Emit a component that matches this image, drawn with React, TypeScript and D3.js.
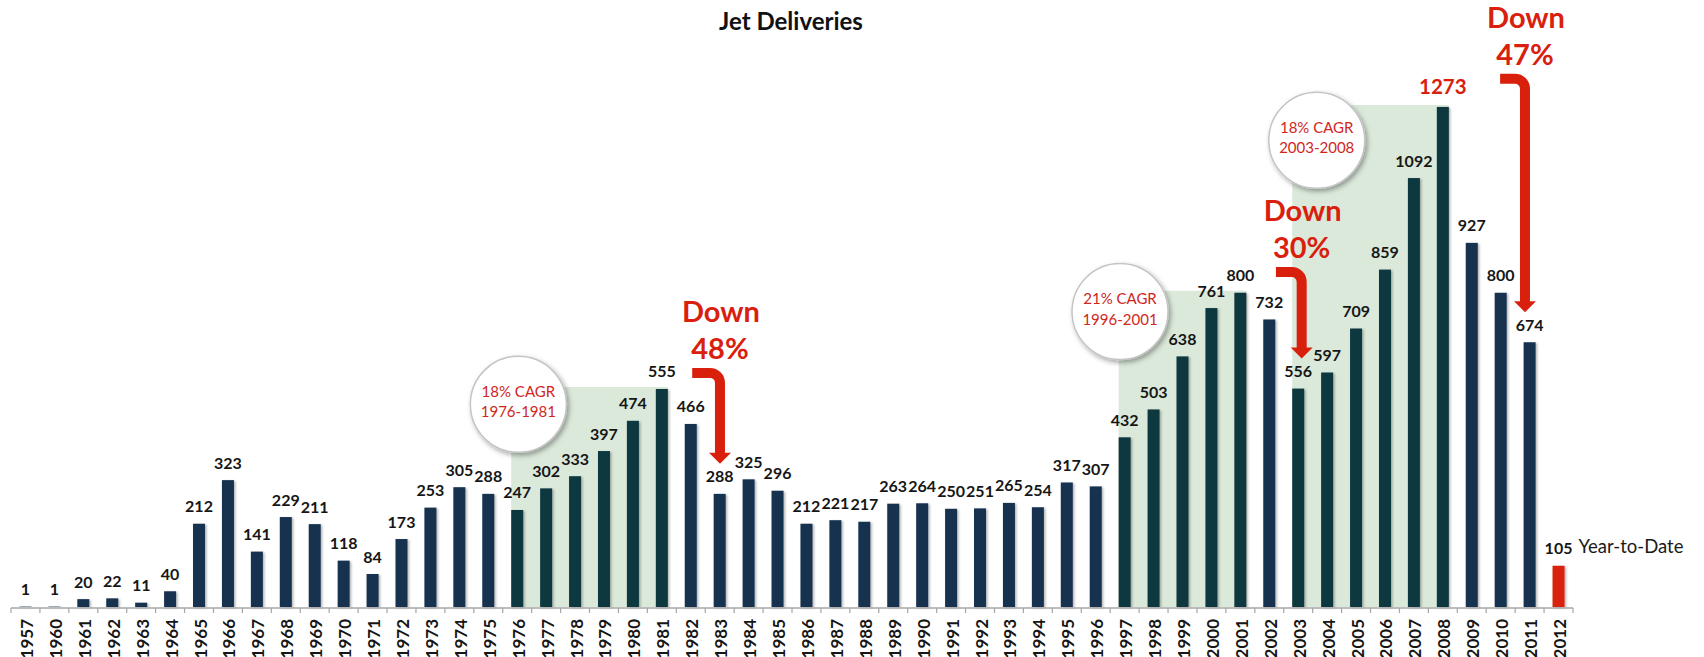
import React from 'react';
import * as d3 from 'd3';

// categories and values
const years = [
  '1957', '1960', '1961', '1962', '1963', '1964', '1965', '1966', '1967', '1968',
  '1969', '1970', '1971', '1972', '1973', '1974', '1975', '1976', '1977', '1978',
  '1979', '1980', '1981', '1982', '1983', '1984', '1985', '1986', '1987', '1988',
  '1989', '1990', '1991', '1992', '1993', '1994', '1995', '1996', '1997', '1998',
  '1999', '2000', '2001', '2002', '2003', '2004', '2005', '2006', '2007', '2008',
  '2009', '2010', '2011', '2012',
];

const deliveries = [
  1, 1, 20, 22, 11, 40, 212, 323, 141, 229,
  211, 118, 84, 173, 253, 305, 288, 247, 302, 333,
  397, 474, 555, 466, 288, 325, 296, 212, 221, 217,
  263, 264, 250, 251, 265, 254, 317, 307, 432, 503,
  638, 761, 800, 732, 556, 597, 709, 859, 1092, 1273,
  927, 800, 674, 105,
];

const ytdYear = '2012';
const peakYear = '2008';

// growth periods (shaded) and their bubble labels
const cagrFrom = ['1976', '1997', '2003'];
const cagrTo = ['1981', '2001', '2008'];
const cagrRate = ['18% CAGR', '21% CAGR', '18% CAGR'];
const cagrPeriod = ['1976-1981', '1996-2001', '2003-2008'];

// declines
const dropLabel = ['48%', '30%', '47%'];
const dropTarget = ['1983', '2003', '2011'];

// annotation layout, in category-index / delivery units
const bubbleAt = [17.54, 38.34, 45.14];
const bubbleLevel = [516, 752, 1188];
const arrowStart = [23.55, 43.73, 51.48];
const arrowStem = [24.51, 44.62, 52.34];
const arrowTop = [596, 853, 1345];

const W = 1704, H = 657;
const baseY = 607;
const navy = '#16304f';
const teal = '#11383f';
const red = '#d9200d';
const font = 'Lato, "Open Sans", sans-serif';

export default function App() {
  const x = d3.scaleBand<string>().domain(years).range([11, 1573]).padding(0);
  const xi = d3.scaleLinear().domain([0, years.length]).range([11, 1573]);
  const y = d3.scaleLinear().domain([0, 1400]).range([baseY, baseY - 1400 * 0.3928]);
  const bw = 12;
  const cx = (yr: string) => (x(yr) as number) + x.bandwidth() / 2;

  const inShade = (yr: string) =>
    cagrFrom.some((f, i) => +yr >= +f && +yr <= +cagrTo[i]);

  const ticks = d3.range(years.length + 1).map(i => xi(i));

  return (
    <svg width={W} height={H} style={{ position: 'absolute', left: 0, top: 0, display: 'block' }}
      fontFamily={font}>
      <defs>
        <filter id="barShadow" x="-30%" y="-10%" width="160%" height="120%">
          <feDropShadow dx="1.5" dy="1" stdDeviation="0.8" floodColor="#000" floodOpacity="0.3" />
        </filter>
        <filter id="bubbleShadow" x="-30%" y="-30%" width="160%" height="160%">
          <feDropShadow dx="2" dy="2.5" stdDeviation="2.5" floodColor="#000" floodOpacity="0.35" />
        </filter>
      </defs>

      <text x={791} y={30} textAnchor="middle" fontSize={24} fontWeight="bold" fill="#111">
        Jet Deliveries
      </text>

      {/* shaded growth periods */}
      {cagrFrom.map((f, i) => {
        const x0 = cx(f) - bw / 2;
        const x1 = cx(cagrTo[i]) + bw / 2;
        const top = y(deliveries[years.indexOf(cagrTo[i])]) - 2;
        return <rect key={'s' + i} x={x0} y={top} width={x1 - x0} height={baseY - top} fill="#dbe9da" />;
      })}

      {/* bars */}
      <g filter="url(#barShadow)">
        {years.map((yr, i) => (
          <rect key={yr} x={cx(yr) - bw / 2} y={y(deliveries[i])} width={bw}
            height={baseY - y(deliveries[i])}
            fill={yr === ytdYear ? red : inShade(yr) ? teal : navy} />
        ))}
      </g>

      {/* value labels */}
      {years.map((yr, i) => (
        <text key={'v' + yr} x={cx(yr)} y={y(deliveries[i]) - (yr === peakYear ? 13 : 11.5)}
          textAnchor="middle" fontWeight="bold"
          fontSize={yr === peakYear ? 20.5 : 16}
          fill={yr === peakYear ? red : '#161616'}>
          {deliveries[i]}
        </text>
      ))}
      <text x={cx(ytdYear) + 20} y={y(deliveries[years.indexOf(ytdYear)]) - 12.5}
        fontSize={18.5} fill="#1a1a1a">Year-to-Date</text>

      {/* axis */}
      <line x1={xi(0)} x2={xi(years.length)} y1={baseY + 1} y2={baseY + 1} stroke="#a6a6a6" strokeWidth={1.5} />
      {ticks.map((t, i) => (
        <line key={'t' + i} x1={t} x2={t} y1={baseY + 1} y2={baseY + 6} stroke="#a6a6a6" strokeWidth={1.2} />
      ))}
      {years.map(yr => (
        <text key={'l' + yr} transform={`translate(${cx(yr) + 7.5},619) rotate(-90)`}
          textAnchor="end" fontSize={17} fontWeight="bold" fill="#161616">{yr}</text>
      ))}

      {/* CAGR bubbles */}
      {cagrRate.map((r, i) => {
        const bx = xi(bubbleAt[i]);
        const by = y(bubbleLevel[i]);
        return (
          <g key={'b' + i}>
            <circle cx={bx} cy={by} r={48} fill="#fff" stroke="#c4c4c4" strokeWidth={1.5}
              filter="url(#bubbleShadow)" />
            <text x={bx} y={by - 7.5} textAnchor="middle" fontSize={15} fill="#d0261c">{r}</text>
            <text x={bx} y={by + 13} textAnchor="middle" fontSize={15} fill="#d0261c">{cagrPeriod[i]}</text>
          </g>
        );
      })}

      {/* decline arrows */}
      {dropLabel.map((d, i) => {
        const vx = xi(arrowStem[i]);
        const sx = xi(arrowStart[i]);
        const top = y(arrowTop[i]);
        const target = deliveries[years.indexOf(dropTarget[i])];
        const tip = y(target) - 30;
        const base = tip - 11;
        const r = 10;
        return (
          <g key={'a' + i}>
            <text x={vx + 1} y={top - 51} textAnchor="middle" fontSize={29} fontWeight="bold" fill={red}>Down</text>
            <text x={vx} y={top - 14} textAnchor="middle" fontSize={29} fontWeight="bold" fill={red}>{d}</text>
            <path d={`M${sx},${top} H${vx - r} A${r},${r} 0 0 1 ${vx},${top + r} V${base + 1}`}
              fill="none" stroke={red} strokeWidth={10} />
            <polygon points={`${vx - 11},${base} ${vx + 11},${base} ${vx},${tip}`} fill={red} />
          </g>
        );
      })}
    </svg>
  );
}
